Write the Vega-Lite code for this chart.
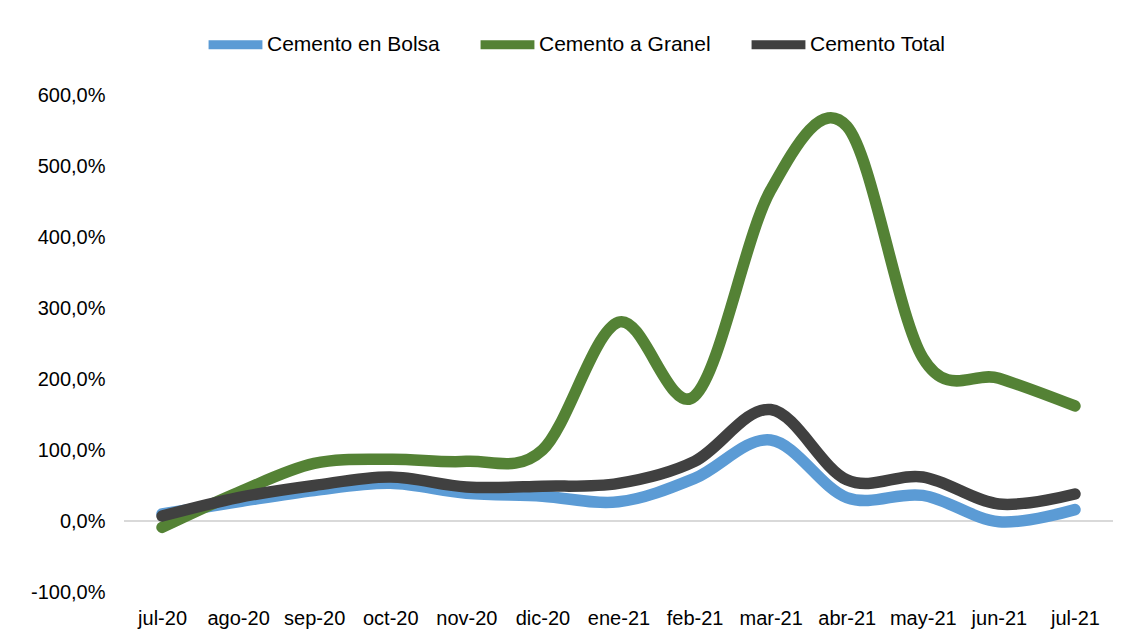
{
  "$schema": "https://vega.github.io/schema/vega-lite/v6.json",
  "autosize": {"type": "none"},
  "width": 989,
  "height": 497,
  "padding": {"left": 124, "top": 95, "right": 22, "bottom": 51},
  "background": "white",
  "config": {
    "font": "Liberation Sans",
    "view": {"stroke": null},
    "axis": {"labelFont": "Liberation Sans", "labelFontSize": 20, "labelColor": "#000000", "domain": false, "ticks": false, "grid": false, "title": null},
    "legend": {"labelFont": "Liberation Sans", "labelFontSize": 21, "labelColor": "#000000", "labelLimit": 0}
  },
  "data": {"values": [
    {"mes": "jul-20", "serie": "Cemento en Bolsa", "valor": 10},
    {"mes": "ago-20", "serie": "Cemento en Bolsa", "valor": 27},
    {"mes": "sep-20", "serie": "Cemento en Bolsa", "valor": 43},
    {"mes": "oct-20", "serie": "Cemento en Bolsa", "valor": 53},
    {"mes": "nov-20", "serie": "Cemento en Bolsa", "valor": 39},
    {"mes": "dic-20", "serie": "Cemento en Bolsa", "valor": 35},
    {"mes": "ene-21", "serie": "Cemento en Bolsa", "valor": 27},
    {"mes": "feb-21", "serie": "Cemento en Bolsa", "valor": 60},
    {"mes": "mar-21", "serie": "Cemento en Bolsa", "valor": 114},
    {"mes": "abr-21", "serie": "Cemento en Bolsa", "valor": 33},
    {"mes": "may-21", "serie": "Cemento en Bolsa", "valor": 36},
    {"mes": "jun-21", "serie": "Cemento en Bolsa", "valor": -1},
    {"mes": "jul-21", "serie": "Cemento en Bolsa", "valor": 16},
    {"mes": "jul-20", "serie": "Cemento a Granel", "valor": -9},
    {"mes": "ago-20", "serie": "Cemento a Granel", "valor": 40},
    {"mes": "sep-20", "serie": "Cemento a Granel", "valor": 81},
    {"mes": "oct-20", "serie": "Cemento a Granel", "valor": 87},
    {"mes": "nov-20", "serie": "Cemento a Granel", "valor": 84},
    {"mes": "dic-20", "serie": "Cemento a Granel", "valor": 100},
    {"mes": "ene-21", "serie": "Cemento a Granel", "valor": 280},
    {"mes": "feb-21", "serie": "Cemento a Granel", "valor": 176},
    {"mes": "mar-21", "serie": "Cemento a Granel", "valor": 466},
    {"mes": "abr-21", "serie": "Cemento a Granel", "valor": 556},
    {"mes": "may-21", "serie": "Cemento a Granel", "valor": 230},
    {"mes": "jun-21", "serie": "Cemento a Granel", "valor": 201},
    {"mes": "jul-21", "serie": "Cemento a Granel", "valor": 162},
    {"mes": "jul-20", "serie": "Cemento Total", "valor": 7},
    {"mes": "ago-20", "serie": "Cemento Total", "valor": 33},
    {"mes": "sep-20", "serie": "Cemento Total", "valor": 50},
    {"mes": "oct-20", "serie": "Cemento Total", "valor": 62},
    {"mes": "nov-20", "serie": "Cemento Total", "valor": 48},
    {"mes": "dic-20", "serie": "Cemento Total", "valor": 49},
    {"mes": "ene-21", "serie": "Cemento Total", "valor": 53},
    {"mes": "feb-21", "serie": "Cemento Total", "valor": 84},
    {"mes": "mar-21", "serie": "Cemento Total", "valor": 157},
    {"mes": "abr-21", "serie": "Cemento Total", "valor": 58},
    {"mes": "may-21", "serie": "Cemento Total", "valor": 62},
    {"mes": "jun-21", "serie": "Cemento Total", "valor": 24},
    {"mes": "jul-21", "serie": "Cemento Total", "valor": 38}
  ]},
  "encoding": {
    "x": {
      "field": "mes", "type": "ordinal", "sort": null,
      "scale": {"type": "point", "padding": 0.5},
      "axis": {"labelAngle": 0, "labelPadding": 16, "labelBaseline": "top"}
    },
    "y": {
      "field": "valor", "type": "quantitative",
      "scale": {"domain": [-100, 600], "nice": false, "zero": false},
      "axis": {"values": [-100, 0, 100, 200, 300, 400, 500, 600], "labelPadding": 19, "labelExpr": "replace(replace(format(datum.value, '.1f'), '.', ','), '\u2212', '-') + '%'"}
    }
  },
  "layer": [
    {
      "mark": {"type": "rule", "color": "#D9D9D9", "strokeWidth": 1.5},
      "encoding": {"y": {"datum": 0}, "x": null}
    },
    {
      "mark": {"type": "line", "interpolate": "cardinal", "strokeWidth": 11.5, "strokeCap": "round", "strokeJoin": "round"},
      "encoding": {
        "color": {
          "field": "serie", "type": "nominal",
          "scale": {"domain": ["Cemento en Bolsa", "Cemento a Granel", "Cemento Total"], "range": ["#5B9BD5", "#548235", "#404040"]},
          "sort": ["Cemento en Bolsa", "Cemento a Granel", "Cemento Total"],
          "legend": {
            "title": null, "orient": "none", "direction": "horizontal",
            "legendX": 80, "legendY": -82,
            "symbolType": "stroke", "symbolSize": 2900, "symbolStrokeWidth": 9,
            "labelOffset": 0, "columnPadding": 22
          }
        }
      }
    }
  ]
}
